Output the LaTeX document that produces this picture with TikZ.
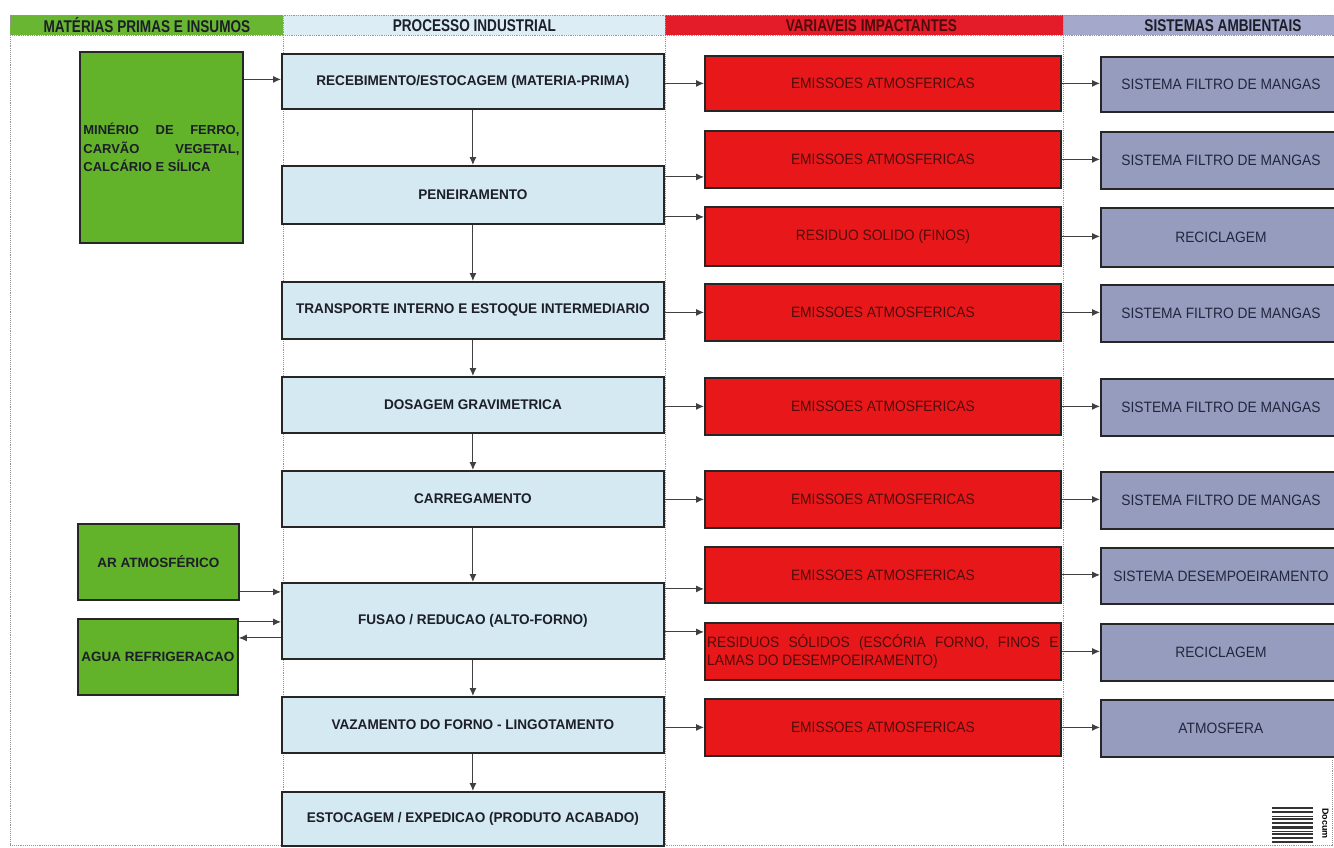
\documentclass[tikz,border=0pt]{standalone}
\usepackage{fontspec}
\setmainfont{Liberation Sans}
\usetikzlibrary{arrows.meta,calc}
\definecolor{gbox}{RGB}{98,178,42}
\definecolor{ghead}{RGB}{104,182,50}
\definecolor{bbox}{RGB}{212,233,242}
\definecolor{bhead}{RGB}{220,237,246}
\definecolor{rbox}{RGB}{232,24,26}
\definecolor{rhead}{RGB}{228,28,42}
\definecolor{sbox}{RGB}{150,156,190}
\definecolor{shead}{RGB}{164,168,202}
\definecolor{txt}{RGB}{28,30,40}
\definecolor{stxt}{RGB}{34,38,62}
\definecolor{rtxt}{RGB}{80,12,12}
\definecolor{dotc}{RGB}{150,150,150}
\newcommand\condtxt[1]{\scalebox{0.92}[1]{#1}}
\newcommand\proctxt[1]{\scalebox{0.97}[1]{#1}}
\begin{document}
\begin{tikzpicture}[x=1pt,y=-1pt,
  box/.style={draw=black!85,line width=1.8pt,anchor=north west,inner sep=0pt,align=center},
  pbox/.style={box,fill=bbox,font=\fontsize{14}{16}\selectfont\bfseries,text=txt},
  rbx/.style={box,fill=rbox,font=\fontsize{15}{18}\selectfont,text=rtxt},
  sbx/.style={box,fill=sbox,font=\fontsize{15}{18}\selectfont,text=stxt},
  gbx/.style={box,fill=gbox,font=\fontsize{13.5}{18}\selectfont\bfseries,text=txt},
  head/.style={anchor=north west,inner sep=0pt,draw=dotc,densely dotted,line width=0.8pt},
  htxt/.style={inner sep=0pt,text=txt},
  arr/.style={-{Latex[length=8pt,width=7pt]},line width=1pt,draw=black!75},
  sep/.style={draw=dotc,densely dotted,line width=0.9pt}
]
\useasboundingbox (0,0) rectangle (1334,847);
\fill[white] (0,0) rectangle (1334,847);

% header bands
\node[head,fill=ghead,minimum width=273pt,minimum height=20pt] (h1) at (10,15) {};
\node[head,fill=bhead,minimum width=382pt,minimum height=20pt] (h2) at (283,15) {};
\node[head,fill=rhead,minimum width=398pt,minimum height=20pt] (h3) at (665,15) {};
\node[head,fill=shead,minimum width=275pt,minimum height=20pt] (h4) at (1063,15) {};
\node[htxt] (t1) at (h1.center) {\scalebox{0.8}[1]{\fontsize{17}{17}\selectfont\bfseries MATÉRIAS PRIMAS E INSUMOS}};
\node[htxt] (t2) at (h2.center) {\scalebox{0.8}[1]{\fontsize{17}{17}\selectfont\bfseries PROCESSO INDUSTRIAL}};
\node[htxt,text=rtxt] (t3) at ([xshift=7pt]h3.center) {\scalebox{0.8}[1]{\fontsize{17}{17}\selectfont\bfseries VARIAVEIS IMPACTANTES}};
\node[htxt] (t4) at ([xshift=22pt]h4.center) {\scalebox{0.8}[1]{\fontsize{17}{17}\selectfont\bfseries SISTEMAS AMBIENTAIS}};

% column separators
\draw[sep] (10,35) -- (10,845);
\draw[sep] (283,35) -- (283,845);
\draw[sep] (665,35) -- (665,845);
\draw[sep] (1063,35) -- (1063,845);
\draw[sep] (1332,760) -- (1332,845);
\draw[sep] (10,845) -- (1334,845);

% green boxes
\node[gbx,minimum width=163pt,minimum height=191pt] (g1) at (79,51) {};
\node[text=txt,font=\fontsize{13}{18.5}\selectfont\bfseries,inner sep=0pt,align=left] (g1t) at (g1.center)
  {\hbox to 156pt{MINÉRIO\hfill DE\hfill FERRO,}\\ \hbox to 156pt{CARVÃO\hfill VEGETAL,}\\ \hbox to 156pt{CALCÁRIO E SÍLICA\hfill}};
\node[gbx,minimum width=161pt,minimum height=76pt] (ga) at (77,523) {AR ATMOSFÉRICO};
\node[gbx,minimum width=160pt,minimum height=76pt] (gw) at (77,618) {AGUA REFRIGERACAO};

% process boxes
\node[pbox,minimum width=382pt,minimum height=55pt] (p1) at (281,53) {\proctxt{RECEBIMENTO/ESTOCAGEM (MATERIA-PRIMA)}};
\node[pbox,minimum width=382pt,minimum height=58pt] (p2) at (281,165) {\proctxt{PENEIRAMENTO}};
\node[pbox,minimum width=382pt,minimum height=57pt] (p3) at (281,281) {\proctxt{TRANSPORTE INTERNO E ESTOQUE INTERMEDIARIO}};
\node[pbox,minimum width=382pt,minimum height=56pt] (p4) at (281,376) {\proctxt{DOSAGEM GRAVIMETRICA}};
\node[pbox,minimum width=382pt,minimum height=56pt] (p5) at (281,470) {\proctxt{CARREGAMENTO}};
\node[pbox,minimum width=382pt,minimum height=76pt] (p6) at (281,582) {\proctxt{FUSAO / REDUCAO (ALTO-FORNO)}};
\node[pbox,minimum width=382pt,minimum height=56pt] (p7) at (281,696) {\proctxt{VAZAMENTO DO FORNO - LINGOTAMENTO}};
\node[pbox,minimum width=382pt,minimum height=54pt] (p8) at (281,791) {\proctxt{ESTOCAGEM / EXPEDICAO (PRODUTO ACABADO)}};

% red boxes
\node[rbx,minimum width=356pt,minimum height=55pt] (r1) at (704,55) {\condtxt{EMISSOES ATMOSFERICAS}};
\node[rbx,minimum width=356pt,minimum height=57pt] (r2) at (704,130) {\condtxt{EMISSOES ATMOSFERICAS}};
\node[rbx,minimum width=356pt,minimum height=59pt] (r3) at (704,206) {\condtxt{RESIDUO SOLIDO (FINOS)}};
\node[rbx,minimum width=356pt,minimum height=57pt] (r4) at (704,283) {\condtxt{EMISSOES ATMOSFERICAS}};
\node[rbx,minimum width=356pt,minimum height=57pt] (r5) at (704,377) {\condtxt{EMISSOES ATMOSFERICAS}};
\node[rbx,minimum width=356pt,minimum height=57pt] (r6) at (704,470) {\condtxt{EMISSOES ATMOSFERICAS}};
\node[rbx,minimum width=356pt,minimum height=56pt] (r7) at (704,546) {\condtxt{EMISSOES ATMOSFERICAS}};
\node[rbx,minimum width=356pt,minimum height=57pt] (r8) at (704,622) {};
\node[text=rtxt,font=\fontsize{15}{18}\selectfont,inner sep=0pt] (r8t) at (r8.center)
  {\scalebox{0.92}[1]{\vbox{\hbox to 382pt{RESIDUOS\hfill SÓLIDOS\hfill (ESCÓRIA\hfill FORNO,\hfill FINOS\hfill E}\hbox to 382pt{LAMAS DO DESEMPOEIRAMENTO)\hfill}}}};
\node[rbx,minimum width=356pt,minimum height=57pt] (r9) at (704,698) {\condtxt{EMISSOES ATMOSFERICAS}};

% grey boxes
\node[sbx,minimum width=240pt,minimum height=55pt] (s1) at (1100,56) {\condtxt{SISTEMA FILTRO DE MANGAS}};
\node[sbx,minimum width=240pt,minimum height=57pt] (s2) at (1100,131) {\condtxt{SISTEMA FILTRO DE MANGAS}};
\node[sbx,minimum width=240pt,minimum height=59pt] (s3) at (1100,207) {\condtxt{RECICLAGEM}};
\node[sbx,minimum width=240pt,minimum height=57pt] (s4) at (1100,284) {\condtxt{SISTEMA FILTRO DE MANGAS}};
\node[sbx,minimum width=240pt,minimum height=57pt] (s5) at (1100,378) {\condtxt{SISTEMA FILTRO DE MANGAS}};
\node[sbx,minimum width=240pt,minimum height=57pt] (s6) at (1100,471) {\condtxt{SISTEMA FILTRO DE MANGAS}};
\node[sbx,minimum width=240pt,minimum height=56pt] (s7) at (1100,547) {\condtxt{SISTEMA DESEMPOEIRAMENTO}};
\node[sbx,minimum width=240pt,minimum height=57pt] (s8) at (1100,623) {\condtxt{RECICLAGEM}};
\node[sbx,minimum width=240pt,minimum height=57pt] (s9) at (1100,699) {\condtxt{ATMOSFERA}};

% vertical process flow
\draw[arr] (p1.south) -- (p2.north);
\draw[arr] (p2.south) -- (p3.north);
\draw[arr] (p3.south) -- (p4.north);
\draw[arr] (p4.south) -- (p5.north);
\draw[arr] (p5.south) -- (p6.north);
\draw[arr] (p6.south) -- (p7.north);
\draw[arr] (p7.south) -- (p8.north);

% inputs
\draw[arr] ([yshift=2pt]p1.west -| g1.east) -- ([yshift=2pt]p1.west);
\draw[arr] ([yshift=29pt]p6.west -| ga.east) -- ([yshift=29pt]p6.west);
\draw[arr] ([yshift=-1pt]p6.west -| gw.east) -- ([yshift=-1pt]p6.west);
\draw[arr] ([yshift=-17pt]p6.west) -- ([yshift=-17pt]p6.west -| gw.east);

% process -> impacts
\draw[arr] (p1.east |- r1.west) -- (r1.west);
\draw[arr] ([yshift=18pt]p2.east) -- ([yshift=18pt]p2.east -| r2.west);
\draw[arr] ([yshift=-22pt]p2.east) -- ([yshift=-22pt]p2.east -| r3.west);
\draw[arr] (p3.east |- r4.west) -- (r4.west);
\draw[arr] (p4.east |- r5.west) -- (r5.west);
\draw[arr] (p5.east |- r6.west) -- (r6.west);
\draw[arr] ([yshift=32pt]p6.east) -- ([yshift=32pt]p6.east -| r7.west);
\draw[arr] ([yshift=-11pt]p6.east) -- ([yshift=-11pt]p6.east -| r8.west);
\draw[arr] (p7.east |- r9.west) -- (r9.west);

% impacts -> systems
\draw[arr] (r1.east) -- (r1.east -| s1.west);
\draw[arr] (r2.east) -- (r2.east -| s2.west);
\draw[arr] (r3.east) -- (r3.east -| s3.west);
\draw[arr] (r4.east) -- (r4.east -| s4.west);
\draw[arr] (r5.east) -- (r5.east -| s5.west);
\draw[arr] (r6.east) -- (r6.east -| s6.west);
\draw[arr] (r7.east) -- (r7.east -| s7.west);
\draw[arr] (r8.east) -- (r8.east -| s8.west);
\draw[arr] (r9.east) -- (r9.east -| s9.west);

% scan stamp
\foreach \yy/\ww in {808/1.5,812/2.5,816/1,819/2,823/1.5,827/3,831/1,834/2,838/1.5,842/2.5}
  \draw[line width=\ww pt,black!80] (1272,\yy) -- (1313,\yy);
\node[rotate=-90,font=\fontsize{9}{9}\selectfont\bfseries,inner sep=0pt,anchor=south west] (doc) at (1322,808) {Docum};
\end{tikzpicture}
\end{document}
